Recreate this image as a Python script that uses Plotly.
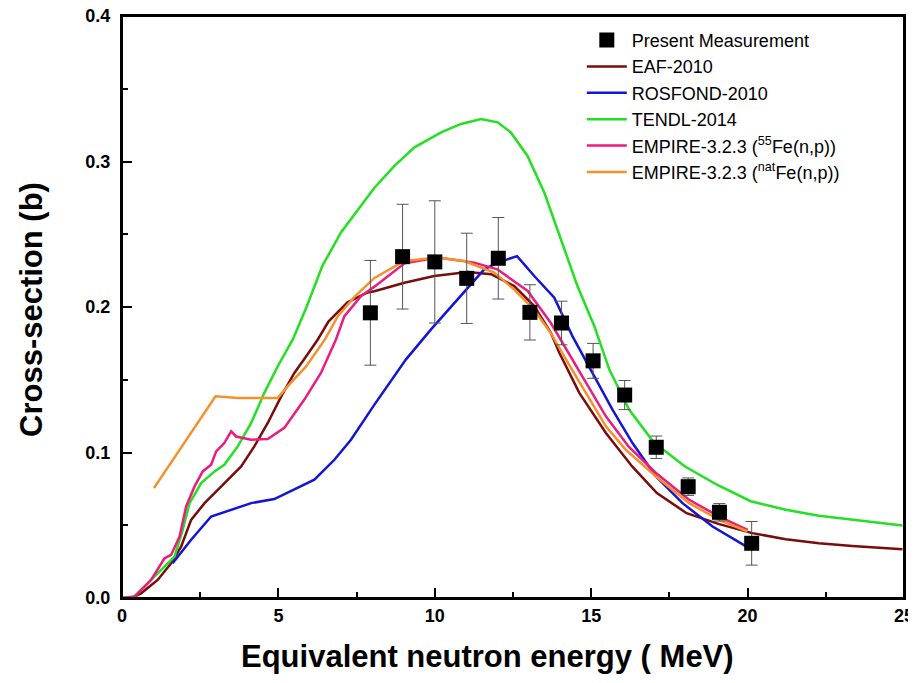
import plotly.graph_objects as go

# ---------------- data ----------------
meas_E = [7.94, 8.97, 10.0, 11.02, 12.03, 13.04, 14.05, 15.06, 16.07, 17.08, 18.1, 19.1, 20.13]
meas_xs = [0.196, 0.2346, 0.231, 0.2197, 0.2335, 0.1963, 0.189, 0.163, 0.1395, 0.1036, 0.0765, 0.0589, 0.0376]
meas_err = [0.036, 0.036, 0.042, 0.031, 0.028, 0.019, 0.015, 0.012, 0.010, 0.0077, 0.006, 0.006, 0.015]

eaf_E = [0.0, 0.3, 0.61, 1.14, 1.57, 1.89, 2.21, 2.64, 2.96, 3.38, 3.81, 4.23, 4.66, 5.09, 5.51,
         5.85, 6.26, 6.6, 7.21, 7.85, 8.07, 9.03, 9.98, 11.05, 11.8, 12.54, 13.18, 13.71, 13.98,
         14.62, 15.47, 16.31, 17.1, 18.05, 19.09, 20.15, 21.22, 22.28, 23.35, 24.95]
eaf_xs = [0.0, 0.0, 0.0032, 0.0124, 0.0239, 0.0353, 0.0537, 0.0652, 0.0721, 0.0813, 0.0904, 0.1042,
          0.1203, 0.1386, 0.1547, 0.165, 0.1777, 0.19, 0.2032, 0.21, 0.2108, 0.2167, 0.2213,
          0.224, 0.2225, 0.2144, 0.2006, 0.1823, 0.1685, 0.141, 0.1134, 0.0904, 0.0721, 0.0583,
          0.0508, 0.0446, 0.0404, 0.0377, 0.0358, 0.0335]

ros_E = [1.62, 2.21, 2.85, 3.49, 4.13, 4.87, 5.51, 6.15, 6.79, 7.32, 8.07, 8.6, 9.08, 9.88, 10.73,
         11.58, 12.01, 12.63, 13.18, 13.82, 14.4, 15.04, 15.68, 16.32, 17.07, 17.92, 18.88, 19.94]
ros_xs = [0.0239, 0.04, 0.056, 0.0606, 0.0652, 0.068, 0.0744, 0.0813, 0.095, 0.1088, 0.1329, 0.149,
          0.164, 0.1846, 0.2052, 0.2259, 0.2305, 0.235, 0.2213, 0.2064, 0.18, 0.1548, 0.1295,
          0.1065, 0.0835, 0.0652, 0.0491, 0.0356]

tendl_E = [0.0, 0.35, 0.82, 1.36, 1.68, 1.94, 2.16, 2.53, 2.96, 3.27, 3.70, 4.13, 4.55, 4.98, 5.46,
           5.9, 6.4, 7.0, 7.64, 8.07, 8.71, 9.35, 10.2, 10.84, 11.48, 12.01, 12.43, 12.96, 13.5,
           14.03, 14.56, 15.1, 15.58, 16.21, 17.0, 18.0, 19.05, 20.1, 21.22, 22.28, 23.35, 24.95]
tendl_xs = [0.0, 0.0, 0.0101, 0.0216, 0.0284, 0.0468, 0.0652, 0.079, 0.087, 0.0916, 0.1042, 0.1203,
            0.141, 0.1593, 0.1777, 0.2, 0.228, 0.2512, 0.2695, 0.282, 0.297, 0.3097, 0.32, 0.3258,
            0.3292, 0.3269, 0.32, 0.304, 0.2787, 0.2466, 0.2144, 0.1868, 0.157, 0.1295, 0.107,
            0.0904, 0.0775, 0.0665, 0.0606, 0.0565, 0.0537, 0.0498]

emp55_E = [0.0, 0.4, 0.93, 1.36, 1.57, 1.84, 2.05, 2.32, 2.58, 2.85, 3.01, 3.27, 3.49, 3.65, 4.13,
           4.66, 5.19, 5.83, 6.36, 6.84, 7.11, 7.64, 8.07, 9.03, 10.09, 11.26, 12.0, 12.97, 13.71,
           14.4, 15.47, 16.2, 17.07, 18.13, 19.09, 20.0]
emp55_xs = [0.0, 0.001, 0.0124, 0.0273, 0.0296, 0.0422, 0.0629, 0.0767, 0.087, 0.0916, 0.1008,
            0.1065, 0.1145, 0.111, 0.1088, 0.1093, 0.1169, 0.1364, 0.1547, 0.1777, 0.1937,
            0.2075, 0.214, 0.23, 0.234, 0.2305, 0.2259, 0.211, 0.189, 0.164, 0.1249, 0.104,
            0.0859, 0.0675, 0.056, 0.0468]

empnat_E = [1.02, 2.99, 3.70, 4.98, 5.4, 5.88, 6.49, 6.9, 7.43, 8.07, 9.03, 10.09, 10.94, 11.9,
            12.54, 13.18, 13.71, 14.3, 15.47, 16.1, 17.07, 18.13, 19.09, 20.0]
empnat_xs = [0.0755, 0.1386, 0.1375, 0.1375, 0.148, 0.159, 0.1777, 0.1937, 0.207, 0.22, 0.2316,
             0.234, 0.2316, 0.2236, 0.212, 0.198, 0.182, 0.16, 0.118, 0.102, 0.0835, 0.0652,
             0.0537, 0.0457]

x_ticks = [0, 5, 10, 15, 20, 25]
y_ticks = [0.0, 0.1, 0.2, 0.3, 0.4]
x_title = "Equivalent neutron energy ( MeV)"
y_title = "Cross-section (b)"

# ---------------- figure ----------------
FONT = "Arial, Liberation Sans, sans-serif"
fig = go.Figure()

curves = [
    ("EAF-2010", eaf_E, eaf_xs, "#7a0c0c", 2),
    ("ROSFOND-2010", ros_E, ros_xs, "#1414d8", 3),
    ("TENDL-2014", tendl_E, tendl_xs, "#22e022", 4),
    ("EMPIRE-3.2.3 (<sup>55</sup>Fe(n,p))", emp55_E, emp55_xs, "#ec1c7e", 5),
    ("EMPIRE-3.2.3 (<sup>nat</sup>Fe(n,p))", empnat_E, empnat_xs, "#f5902a", 6),
]
for name, xs, ys, col, rank in curves:
    fig.add_trace(go.Scatter(x=xs, y=ys, mode="lines", name=name,
                             line=dict(color=col, width=2.5), legendrank=rank))

fig.add_trace(go.Scatter(
    x=meas_E, y=meas_xs, mode="markers", name="Present Measurement",
    marker=dict(symbol="square", size=15, color="black"),
    error_y=dict(type="data", array=meas_err, visible=True, color="#555555",
                 thickness=1, width=6),
    legendrank=1))

axis_common = dict(
    showline=True, linecolor="black", linewidth=2, mirror=True,
    ticks="inside", ticklen=10, tickwidth=2, tickcolor="black",
    showgrid=False, zeroline=False, automargin=False,
    ticklabeloverflow="allow",
    tickfont=dict(family=FONT, size=18, color="black", weight="bold"),
)

fig.update_xaxes(range=[0, 25], tickvals=x_ticks,
                 minor=dict(ticks="inside", ticklen=6, tickwidth=2, dtick=2.5, tick0=0,
                            tickcolor="black"),
                 **axis_common)
fig.update_yaxes(range=[0, 0.4], tickvals=y_ticks, tickformat=".1f",
                 ticklabelstandoff=6,
                 minor=dict(ticks="inside", ticklen=6, tickwidth=2, dtick=0.05, tick0=0,
                            tickcolor="black"),
                 **axis_common)

# page body has an 8px margin, so the figure is 8px smaller and margins shifted by 8px
fig.update_layout(
    width=908, height=675,
    margin=dict(l=114, r=12, t=8, b=85),
    paper_bgcolor="white", plot_bgcolor="white",
    showlegend=True,
    legend=dict(x=0.588, y=0.99, xanchor="left", yanchor="top",
                bgcolor="rgba(0,0,0,0)", borderwidth=0,
                font=dict(family=FONT, size=18, color="black"),
                tracegroupgap=0, itemwidth=40),
    shapes=[dict(type="rect", xref="paper", yref="paper", x0=0, x1=1, y0=0, y1=1,
                 line=dict(color="black", width=2), layer="above")],
    annotations=[
        dict(text=x_title, xref="paper", yref="paper", x=0.467, y=-0.101,
             xanchor="center", yanchor="middle", showarrow=False,
             font=dict(family=FONT, size=31, color="black", weight="bold")),
        dict(text=y_title, xref="paper", yref="paper", x=-0.115, y=0.495,
             xanchor="center", yanchor="middle", showarrow=False, textangle=-90,
             font=dict(family=FONT, size=31, color="black", weight="bold")),
    ],
)

fig.write_html("out.html")
